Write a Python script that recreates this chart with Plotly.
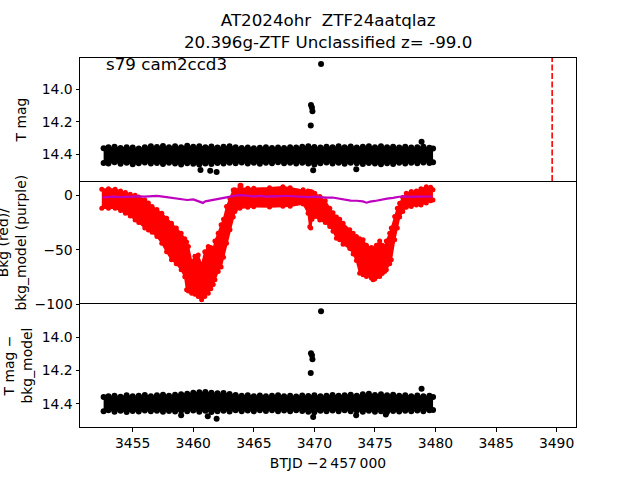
import plotly.graph_objects as go

# ---------------- data ----------------
# time grid for the photometry band envelopes (BTJD)
band_x = [3452.6, 3453.0, 3453.5, 3454.0, 3454.5, 3455.0, 3455.5, 3456.0, 3456.5, 3457.0,
          3457.5, 3458.0, 3458.5, 3459.0, 3459.5, 3460.0, 3460.5, 3461.0, 3461.5, 3462.0,
          3462.5, 3463.0, 3463.5, 3464.0, 3464.5, 3465.0, 3465.5, 3466.0, 3466.5, 3467.0,
          3467.5, 3468.0, 3468.5, 3469.0, 3469.5, 3470.0, 3470.5, 3471.0, 3471.5, 3472.0,
          3472.5, 3473.0, 3473.5, 3474.0, 3474.5, 3475.0, 3475.5, 3476.0, 3476.5, 3477.0,
          3477.5, 3478.0, 3478.5, 3479.0, 3479.5, 3479.8]

# T mag band: bright edge / faint edge
tmag_hi = [14.362, 14.356, 14.352, 14.360, 14.355, 14.358, 14.364, 14.356, 14.350, 14.354,
           14.348, 14.355, 14.350, 14.356, 14.346, 14.352, 14.349, 14.355, 14.351, 14.357,
           14.353, 14.350, 14.356, 14.360, 14.357, 14.362, 14.359, 14.356, 14.361, 14.357,
           14.360, 14.355, 14.358, 14.352, 14.349, 14.354, 14.358, 14.352, 14.356, 14.350,
           14.355, 14.351, 14.357, 14.352, 14.349, 14.355, 14.350, 14.356, 14.353, 14.357,
           14.352, 14.358, 14.355, 14.353, 14.359, 14.364]
tmag_lo = [14.452, 14.455, 14.448, 14.457, 14.451, 14.460, 14.454, 14.449, 14.456, 14.452,
           14.458, 14.450, 14.455, 14.461, 14.453, 14.457, 14.462, 14.455, 14.459, 14.452,
           14.456, 14.450, 14.454, 14.449, 14.455, 14.451, 14.457, 14.450, 14.453, 14.448,
           14.454, 14.451, 14.456, 14.450, 14.455, 14.462, 14.453, 14.449, 14.455, 14.451,
           14.457, 14.450, 14.454, 14.458, 14.452, 14.456, 14.460, 14.453, 14.458, 14.451,
           14.455, 14.450, 14.453, 14.449, 14.452, 14.447]
tmag_out_x = [3470.55, 3469.72, 3469.80, 3469.84, 3469.70, 3478.85, 3460.60, 3461.40, 3461.93, 3469.90, 3473.46]
tmag_out_y = [13.846, 14.097, 14.112, 14.135, 14.222, 14.322, 14.495, 14.500, 14.507, 14.497, 14.490]

# T mag - bkg_model band
diff_hi = [14.360, 14.355, 14.352, 14.358, 14.350, 14.356, 14.352, 14.348, 14.355, 14.350,
           14.346, 14.352, 14.347, 14.343, 14.340, 14.335, 14.332, 14.330, 14.334, 14.338,
           14.336, 14.342, 14.348, 14.352, 14.350, 14.355, 14.351, 14.356, 14.353, 14.350,
           14.355, 14.352, 14.357, 14.351, 14.354, 14.350, 14.356, 14.352, 14.348, 14.353,
           14.350, 14.346, 14.352, 14.344, 14.340, 14.348, 14.343, 14.350, 14.346, 14.352,
           14.349, 14.355, 14.351, 14.356, 14.353, 14.360]
diff_lo = [14.445, 14.440, 14.448, 14.442, 14.450, 14.444, 14.447, 14.441, 14.446, 14.443,
           14.449, 14.444, 14.447, 14.442, 14.446, 14.441, 14.448, 14.443, 14.450, 14.445,
           14.442, 14.447, 14.440, 14.445, 14.441, 14.446, 14.440, 14.444, 14.439, 14.445,
           14.441, 14.446, 14.440, 14.444, 14.448, 14.452, 14.443, 14.446, 14.441, 14.445,
           14.440, 14.446, 14.442, 14.448, 14.443, 14.449, 14.445, 14.450, 14.444, 14.447,
           14.442, 14.446, 14.441, 14.445, 14.440, 14.438]
diff_out_x = [3470.55, 3469.72, 3469.80, 3469.84, 3469.70, 3478.85, 3461.93, 3461.20, 3459.00, 3469.90, 3473.45, 3475.90]
diff_out_y = [13.846, 14.098, 14.110, 14.134, 14.216, 14.310, 14.490, 14.475, 14.470, 14.480, 14.470, 14.465]

# background (red) envelope
bkg_x = [3452.45, 3453.0, 3453.55, 3454.0, 3454.4, 3454.8, 3455.2, 3455.5, 3456.0, 3456.3,
         3456.6, 3457.0, 3457.4, 3457.8, 3458.2, 3458.6, 3459.0, 3459.3, 3459.45, 3459.6,
         3459.87, 3460.14, 3460.41, 3460.69, 3460.95, 3461.24, 3461.45, 3461.65, 3461.79, 3462.06,
         3462.3, 3462.5, 3462.75, 3463.03, 3463.3, 3463.44, 3463.85, 3464.5, 3465.0, 3466.3,
         3467.4, 3468.0, 3469.07, 3469.48, 3469.62, 3469.7, 3469.8, 3470.03, 3470.45, 3470.9,
         3471.27, 3471.54, 3471.82, 3472.09, 3472.37, 3472.92, 3473.2, 3473.47, 3473.74, 3474.02,
         3474.3, 3474.71, 3474.84, 3474.98, 3475.12, 3475.39, 3475.6, 3475.8, 3475.94, 3476.22,
         3476.35, 3476.63, 3476.85, 3477.04, 3477.3, 3477.59, 3478.0, 3478.42, 3478.8, 3479.24,
         3479.6, 3479.79]
bkg_hi = [5.5, 6, 5.5, 4, 2.5, 1, 0, -1.5, -4.3, -7,
          -10.4, -13, -16.5, -21, -25.7, -30, -34.9, -40, -43, -47,
          -61, -56, -55, -64, -52, -47, -48, -50, -42, -35,
          -27, -22, -10.4, -3, 4.9, 5, 6.4, 6.5, 6.4, 7,
          7.9, 7, 5, 4, 3.5, 3.2, 3, 2, -1, -5,
          -12, -16, -20, -22, -25.7, -31.8, -35, -38, -40, -41,
          -46, -48, -49, -51, -46, -42, -46, -47, -42, -35,
          -30, -19.6, -12, -7.3, -2, 2, 3.4, 4, 6, 7.9,
          7.5, 5]
bkg_lo = [-12, -12, -12, -14, -16.5, -19, -22.7, -25, -30, -32,
          -34, -38, -44, -52, -59.4, -63, -68.5, -75, -86.9, -88,
          -90, -91, -93, -96, -93, -90, -86, -82, -77.7, -70,
          -66, -57, -44, -31.8, -20, -15, -12, -11, -10.5, -10.7,
          -10, -10, -8, -16.5, -29, -30, -22, -19.6, -22.7, -25,
          -28.8, -33, -39.5, -41, -45, -49, -54, -60, -71.6, -73,
          -74.7, -76, -77.7, -77, -75, -74.7, -72, -70, -68.5, -63,
          -59.4, -41, -30, -20, -15, -11, -10.4, -9, -8.9, -7,
          -5, -4.3]
bkg_out_x = [3463.9]
bkg_out_y = [8.8]

# background model (purple)
model_x = [3452.5, 3453.0, 3453.5, 3454.0, 3454.5, 3455.0, 3455.5, 3456.0, 3456.5, 3457.0,
           3457.5, 3458.0, 3458.5, 3459.0, 3459.5, 3460.0, 3460.5, 3460.8, 3461.0, 3461.5,
           3462.0, 3462.5, 3463.0, 3463.5, 3464.0, 3464.5, 3465.0, 3465.5, 3466.0, 3466.5,
           3467.0, 3467.5, 3468.0, 3468.5, 3469.0, 3469.5, 3470.0, 3470.5, 3471.0, 3471.5,
           3472.0, 3472.5, 3473.0, 3473.5, 3474.0, 3474.3, 3474.6, 3475.0, 3475.5, 3476.0,
           3476.5, 3477.0, 3477.5, 3478.0, 3478.5, 3479.0, 3479.5, 3479.75]
model_y = [-1.9, -1.5, -1.3, -1.6, -1.2, -1.4, -1.0, -1.3, -0.6, -0.5,
           -1.2, -2.0, -2.8, -3.4, -4.3, -3.8, -5.5, -7.0, -5.6, -4.5,
           -3.6, -2.8, -1.5, -0.3, 0.2, -0.6, -1.0, -0.5, -1.2, -0.8,
           -1.0, -0.4, -0.8, -0.5, -1.1, -1.6, -1.2, -1.8, -2.2, -2.0,
           -2.8, -3.6, -4.9, -5.0, -5.6, -6.8, -5.8, -5.2, -4.0, -3.0,
           -2.4, -1.3, -1.0, -1.5, -1.2, -1.0, -1.3, -1.1]

epoch_x = 3489.63

x_ticks = [3455, 3460, 3465, 3470, 3475, 3480, 3485, 3490]
mag_ticks = [14.0, 14.2, 14.4]
bkg_ticks = [0, -50, -100]

title_text = "AT2024ohr \u00a0ZTF24aatqlaz<br>20.396g-ZTF Unclassified z= -99.0"
sector_text = "s79 cam2ccd3"
xlabel = "BTJD \u22122\u2009457\u2009000"

# ---------------- figure ----------------
FONT = "DejaVu Sans"
BLACK = "#000000"
RED = "#ff0000"
PURPLE = "#bf00bf"

fig = go.Figure()


def band(xs, hi, lo, color, xa, ya, lw, msize):
    # lower edge first, then upper edge filled down to it
    fig.add_trace(go.Scatter(
        x=xs, y=lo, mode="lines", line=dict(color=color, width=lw),
        xaxis=xa, yaxis=ya, hoverinfo="skip", showlegend=False))
    fig.add_trace(go.Scatter(
        x=xs, y=hi, mode="lines", fill="tonexty", fillcolor=color,
        line=dict(color=color, width=lw), xaxis=xa, yaxis=ya,
        hoverinfo="skip", showlegend=False))
    if msize:
        fig.add_trace(go.Scatter(
            x=list(xs) + list(xs), y=list(hi) + list(lo), mode="markers",
            marker=dict(color=color, size=msize, line=dict(width=0)),
            xaxis=xa, yaxis=ya, hoverinfo="skip", showlegend=False))


def dots(xs, ys, color, xa, ya, size=6):
    fig.add_trace(go.Scatter(
        x=xs, y=ys, mode="markers",
        marker=dict(color=color, size=size, line=dict(width=0)),
        xaxis=xa, yaxis=ya, hoverinfo="skip", showlegend=False))


# top: T mag
band(band_x, tmag_hi, tmag_lo, BLACK, "x", "y", 1, 6)
dots(tmag_out_x, tmag_out_y, BLACK, "x", "y")

# middle: background
band(bkg_x, bkg_hi, bkg_lo, RED, "x2", "y2", 1.5, 5)
dots(bkg_out_x, bkg_out_y, RED, "x2", "y2")
fig.add_trace(go.Scatter(
    x=model_x, y=model_y, mode="lines",
    line=dict(color=PURPLE, width=2.2),
    xaxis="x2", yaxis="y2", hoverinfo="skip", showlegend=False))

# bottom: T mag - bkg_model
band(band_x, diff_hi, diff_lo, BLACK, "x3", "y3", 1, 6)
dots(diff_out_x, diff_out_y, BLACK, "x3", "y3")

# epoch line
fig.add_shape(type="line", xref="x", yref="y domain", x0=epoch_x, x1=epoch_x,
              y0=0, y1=1, line=dict(color=RED, width=1.6, dash="6px,2.5px"))

XR = [3450.65, 3491.6]
axis_common = dict(showline=True, linecolor=BLACK, linewidth=1, mirror=True,
                   showgrid=False, zeroline=False, ticks="outside", ticklen=3.5,
                   tickwidth=0.8, tickcolor=BLACK,
                   tickfont=dict(family=FONT, size=13.9, color=BLACK))

fig.update_layout(
    width=640, height=480,
    margin=dict(l=80, r=64, t=58, b=53),
    paper_bgcolor="white", plot_bgcolor="white",
    font=dict(family=FONT, color=BLACK),
    xaxis=dict(axis_common, domain=[0, 1], range=XR, anchor="y",
               showticklabels=False, ticks=""),
    xaxis2=dict(axis_common, domain=[0, 1], range=XR, anchor="y2",
                showticklabels=False, ticks="", showline=False),
    xaxis3=dict(axis_common, domain=[0, 1], range=XR, anchor="y3",
                tickvals=x_ticks,
                title=dict(text=xlabel, font=dict(family=FONT, size=13.9, color=BLACK),
                           standoff=8)),
    yaxis=dict(axis_common, domain=[2 / 3, 1], range=[14.5625, 13.809], anchor="x",
               tickvals=mag_ticks, ticktext=["14.0", "14.2", "14.4"]),
    yaxis2=dict(axis_common, domain=[1 / 3, 2 / 3], range=[-100, 13.16], anchor="x2",
                tickvals=bkg_ticks),
    yaxis3=dict(axis_common, domain=[0, 1 / 3], range=[14.540, 13.802], anchor="x3",
                tickvals=mag_ticks, ticktext=["14.0", "14.2", "14.4"]),
)

ann_font = dict(family=FONT, size=13.9, color=BLACK)
fig.add_annotation(text=title_text, xref="paper", yref="paper", x=0.5,
                   y=1 + (58 - 31) / 369, xanchor="center", yanchor="middle",
                   showarrow=False, borderpad=0,
                   font=dict(family=FONT, size=16.7, color=BLACK))
fig.add_annotation(text=sector_text, xref="paper", yref="paper", x=0.0504, y=0.9837,
                   xanchor="left", yanchor="middle", showarrow=False, borderpad=0,
                   font=dict(family=FONT, size=16.7, color=BLACK))
fig.add_annotation(text="T mag", xref="paper", yref="paper", x=-0.117, y=5 / 6,
                   textangle=-90, xanchor="center", yanchor="middle", showarrow=False,
                   font=ann_font)
fig.add_annotation(text="Bkg (red)/<br>bkg_model (purple)", xref="paper", yref="paper",
                   x=-0.139, y=0.5, textangle=-90, xanchor="center", yanchor="middle",
                   showarrow=False, font=ann_font)
fig.add_annotation(text="T mag \u2212<br>bkg_model", xref="paper", yref="paper",
                   x=-0.127, y=1 / 6, textangle=-90, xanchor="center", yanchor="middle",
                   showarrow=False, font=ann_font)

fig.write_html("out.html")
